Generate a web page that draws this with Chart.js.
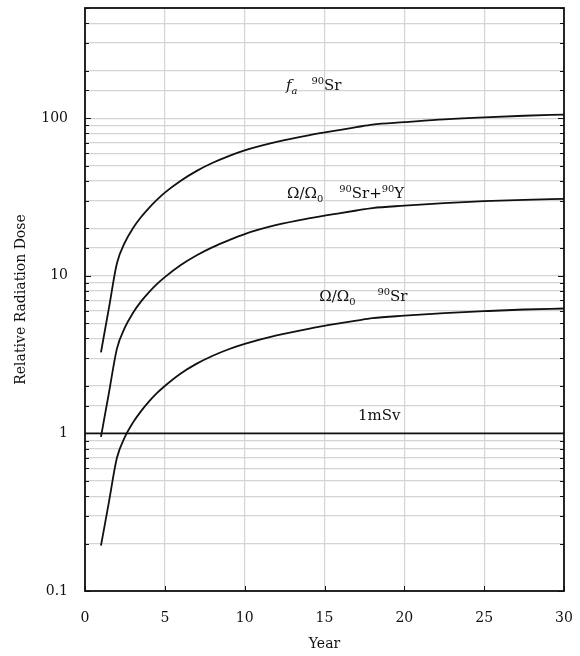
<!DOCTYPE html>
<html>
<head>
<meta charset="utf-8">
<script src="https://cdn.jsdelivr.net/npm/chart.js@4.4.0/dist/chart.umd.min.js"></script>
<style>
  html, body { margin: 0; padding: 0; background: #fff; }
  canvas { display: block; }
</style>
</head>
<body>
<canvas id="chart" width="580" height="656"></canvas>
<script>
// Years after deposition at which each curve is sampled
const years = [1, 1.5, 2, 2.5, 3, 3.5, 4, 4.5, 5, 6, 7, 8, 9, 10, 12, 14, 16, 17, 18, 20, 22.5, 25, 27.5, 30];

// f_a for 90Sr
const faSr = [3.27, 6.26, 12.0, 16.3, 20.0, 23.5, 26.9, 30.3, 33.7, 40.1, 46.3, 52.1, 57.5, 62.5, 70.7, 77.9, 84.4, 87.7, 91.1, 94.3, 98.3, 101.3, 103.6, 105.4];

// Omega/Omega0 for 90Sr + 90Y
const omegaSrY = [0.95, 1.81, 3.45, 4.7, 5.8, 6.85, 7.85, 8.85, 9.8, 11.7, 13.5, 15.2, 16.8, 18.4, 21.0, 23.1, 25.0, 25.95, 26.9, 27.85, 28.9, 29.75, 30.35, 30.8];

// Omega/Omega0 for 90Sr alone
const omegaSr = [0.194, 0.368, 0.70, 0.95, 1.17, 1.38, 1.59, 1.80, 2.00, 2.40, 2.77, 3.11, 3.42, 3.70, 4.19, 4.61, 5.00, 5.19, 5.38, 5.58, 5.79, 5.96, 6.11, 6.20];

// 1 mSv reference level
const limitYears = [0, 30];
const limitDose = [1, 1];

// Axis ranges and labelled ticks
const xRange = [0, 30];
const xStep = 5;
const yRange = [0.1, 500];
const yTickLabels = [0.1, 1, 10, 100];

const SERIF = '"DejaVu Serif", "Liberation Serif", serif';
const INK = '#111';

// Curve captions, anchored in data units (x = year, y = dose at the text baseline)
const captions = [
  { x: 12.59, y: 151, parts: [ { t: 'f', it: true }, { t: 'a', it: true, sub: true }, { gap: 14 }, { t: '90', sup: true }, { t: 'Sr' } ] },
  { x: 12.65, y: 31.2, parts: [ { t: 'Ω/Ω' }, { t: '0', sub: true }, { gap: 16 }, { t: '90', sup: true }, { t: 'Sr+' }, { t: '90', sup: true }, { t: 'Y' } ] },
  { x: 14.67, y: 6.92, parts: [ { t: 'Ω/Ω' }, { t: '0', sub: true }, { gap: 22 }, { t: '90', sup: true }, { t: 'Sr' } ] },
  { x: 17.10, y: 1.22, parts: [ { t: '1mSv' } ] }
];

function series(xs, ys) {
  return xs.map((x, i) => ({ x: x, y: ys[i] }));
}

function isDecade(v) {
  const l = Math.log10(v);
  return Math.abs(l - Math.round(l)) < 1e-9;
}

function drawRich(ctx, x, y, parts, size) {
  let cx = x;
  parts.forEach(p => {
    if (p.gap) { cx += p.gap; return; }
    const small = p.sub || p.sup;
    const fs = small ? size * 0.66 : size;
    ctx.font = (p.it ? 'italic ' : '') + fs + 'px ' + SERIF;
    const dy = p.sup ? -size * 0.42 : (p.sub ? size * 0.28 : 0);
    ctx.fillText(p.t, cx, y + dy);
    cx += ctx.measureText(p.t).width;
  });
}

// Frame, inward tick marks and curve captions
const decor = {
  id: 'decor',
  afterDatasetsDraw(chart) {
    const { ctx, chartArea: a, scales } = chart;
    const xs = scales.x, ys = scales.y;
    ctx.save();
    ctx.strokeStyle = INK;
    ctx.lineWidth = 1;
    ctx.beginPath();
    ys.ticks.forEach(t => {
      const py = Math.round(ys.getPixelForValue(t.value)) + 0.5;
      const len = isDecade(t.value) ? 6 : 4;
      ctx.moveTo(a.left, py); ctx.lineTo(a.left + len, py);
      ctx.moveTo(a.right, py); ctx.lineTo(a.right - len, py);
    });
    xs.ticks.forEach(t => {
      const px = Math.round(xs.getPixelForValue(t.value)) + 0.5;
      ctx.moveTo(px, a.bottom); ctx.lineTo(px, a.bottom - 5);
    });
    ctx.stroke();

    ctx.lineWidth = 1.8;
    ctx.strokeRect(a.left, a.top, a.right - a.left, a.bottom - a.top);

    ctx.fillStyle = INK;
    ctx.textBaseline = 'alphabetic';
    ctx.textAlign = 'left';
    captions.forEach(c => {
      drawRich(ctx, xs.getPixelForValue(c.x), ys.getPixelForValue(c.y), c.parts, 15);
    });
    ctx.restore();
  }
};

const curveStyle = {
  borderColor: INK,
  borderWidth: 1.8,
  pointRadius: 0,
  cubicInterpolationMode: 'monotone',
  fill: false
};

new Chart(document.getElementById('chart'), {
  type: 'line',
  data: {
    datasets: [
      Object.assign({ label: 'fa 90Sr', data: series(years, faSr) }, curveStyle),
      Object.assign({ label: 'Ω/Ω0 90Sr+90Y', data: series(years, omegaSrY) }, curveStyle),
      Object.assign({ label: 'Ω/Ω0 90Sr', data: series(years, omegaSr) }, curveStyle),
      Object.assign({ label: '1mSv', data: series(limitYears, limitDose) }, curveStyle, { borderWidth: 1.6 })
    ]
  },
  options: {
    responsive: false,
    animation: false,
    devicePixelRatio: 1,
    layout: { padding: { top: 8, right: 16, bottom: 0, left: 0 } },
    plugins: {
      legend: { display: false },
      tooltip: { enabled: false }
    },
    scales: {
      x: {
        type: 'linear',
        min: xRange[0],
        max: xRange[1],
        border: { display: false },
        grid: { color: '#d4d4d4', lineWidth: 1.2, drawTicks: false },
        ticks: {
          stepSize: xStep,
          autoSkip: false,
          padding: 19,
          color: INK,
          font: { family: SERIF, size: 14 },
          maxRotation: 0
        },
        title: {
          display: true,
          text: 'Year',
          color: INK,
          font: { family: SERIF, size: 14 },
          padding: { top: 0, bottom: 3 }
        },
        afterFit(s) { s.height = 65; s.paddingLeft = 0; s.paddingRight = 0; }
      },
      y: {
        type: 'logarithmic',
        min: yRange[0],
        max: yRange[1],
        border: { display: false },
        grid: { color: '#d4d4d4', lineWidth: 1.2, drawTicks: false },
        ticks: {
          autoSkip: false,
          padding: 17,
          color: INK,
          font: { family: SERIF, size: 14 },
          callback(v) {
            const hit = yTickLabels.find(l => Math.abs(l - v) / l < 1e-6);
            return hit === undefined ? '' : String(hit);
          }
        },
        title: {
          display: true,
          text: 'Relative Radiation Dose',
          color: INK,
          font: { family: SERIF, size: 14 },
          padding: { top: 13, bottom: 0 }
        },
        afterFit(s) { s.width = 85; s.paddingTop = 0; s.paddingBottom = 0; }
      }
    }
  },
  plugins: [decor]
});
</script>
</body>
</html>
